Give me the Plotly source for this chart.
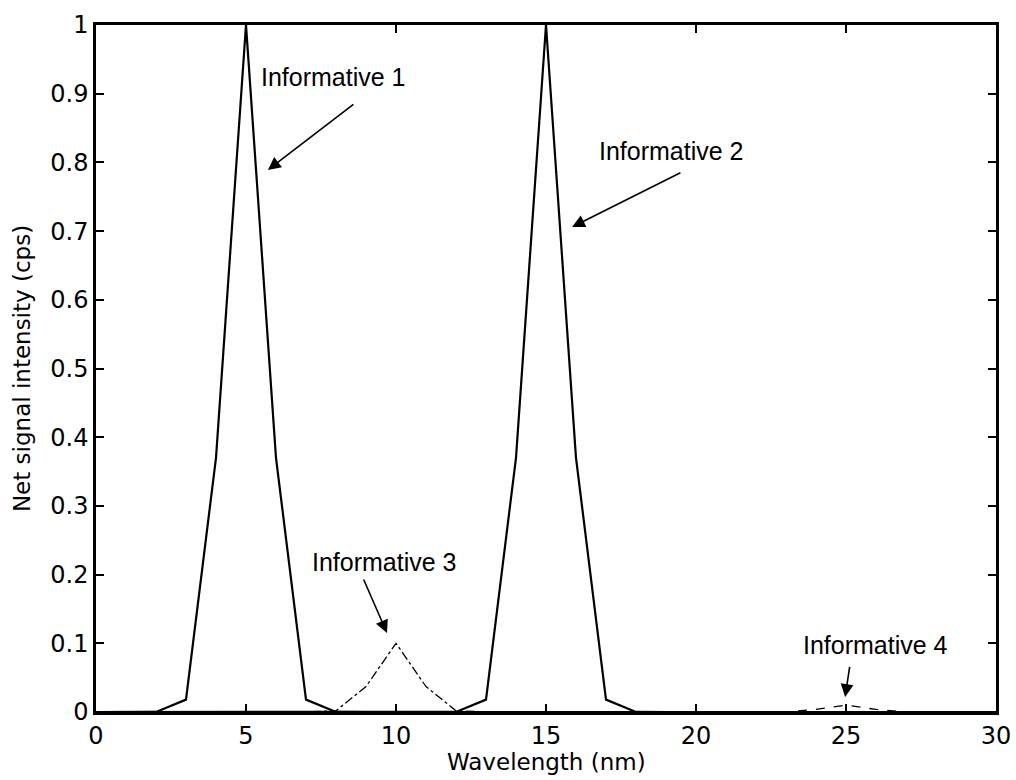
import plotly.graph_objects as go

# Wavelength grid (nm)
wavelength = list(range(0, 31))

# Net signal of each informative component (cps)
informative_1 = [0, 0, 0.0001, 0.018, 0.37, 1.0, 0.37, 0.018, 0.0001] + [0] * 22
informative_2 = [0] * 12 + [0.0001, 0.018, 0.37, 1.0, 0.37, 0.018, 0.0001] + [0] * 12
informative_3 = [0] * 7 + [0.00001, 0.0018, 0.037, 0.1, 0.037, 0.0018, 0.00001] + [0] * 17
informative_4 = [0] * 22 + [0.000001, 0.0002, 0.0037, 0.01, 0.0037, 0.0002, 0.000001] + [0] * 2

x_ticks = [0, 5, 10, 15, 20, 25, 30]
y_ticks = [0, 0.1, 0.2, 0.3, 0.4, 0.5, 0.6, 0.7, 0.8, 0.9, 1]
y_tick_text = ["0", "0.1", "0.2", "0.3", "0.4", "0.5", "0.6", "0.7", "0.8", "0.9", "1"]

# Label text, label position, arrow tail and arrow head (data units)
labels = ["Informative 1", "Informative 2", "Informative 3", "Informative 4"]
label_x = [7.93, 19.17, 9.63, 25.97]
label_y = [0.924, 0.817, 0.218, 0.098]
tail_x = [8.63, 19.53, 8.9, 25.13]
tail_y = [0.886, 0.786, 0.195, 0.068]
head_x = [5.73, 15.87, 9.7, 24.97]
head_y = [0.789, 0.706, 0.115, 0.022]

LABEL_FONT = "Liberation Sans, Arial, sans-serif"
AXIS_FONT = "DejaVu Sans, sans-serif"

fig = go.Figure()
fig.add_trace(go.Scatter(x=wavelength, y=informative_3, mode="lines",
                         line=dict(color="black", width=1.3, dash="dashdot")))
fig.add_trace(go.Scatter(x=wavelength, y=informative_4, mode="lines",
                         line=dict(color="black", width=1.3, dash="dash")))
fig.add_trace(go.Scatter(x=wavelength, y=informative_1, mode="lines",
                         line=dict(color="black", width=2.2)))
fig.add_trace(go.Scatter(x=wavelength, y=informative_2, mode="lines",
                         line=dict(color="black", width=2.2)))

for i in range(len(labels)):
    fig.add_annotation(x=head_x[i], y=head_y[i], ax=tail_x[i], ay=tail_y[i],
                       xref="x", yref="y", axref="x", ayref="y",
                       text="", showarrow=True, arrowhead=2, arrowsize=1.6,
                       arrowwidth=1.6, arrowcolor="black")
    fig.add_annotation(x=label_x[i], y=label_y[i], xref="x", yref="y",
                       text=labels[i], showarrow=False,
                       font=dict(family=LABEL_FONT, size=25, color="black"))

# x-axis title, set just under the tick labels
fig.add_annotation(x=0.5, y=-0.073, xref="paper", yref="paper",
                   xanchor="center", yanchor="middle", showarrow=False,
                   text="Wavelength (nm)",
                   font=dict(family=AXIS_FONT, size=23, color="black"))

axis_common = dict(showgrid=False, zeroline=False, showline=True, linecolor="black",
                   linewidth=2.5, mirror="ticks", ticks="inside", ticklen=8,
                   tickwidth=1.5, tickcolor="black", automargin=False,
                   ticklabeloverflow="allow",
                   tickfont=dict(family=AXIS_FONT, size=24, color="black"))

fig.update_xaxes(range=[0, 30], tickvals=x_ticks, **axis_common)
fig.update_yaxes(range=[0, 1], tickvals=y_ticks, ticktext=y_tick_text,
                 title=dict(text="Net signal intensity (cps)", standoff=14,
                            font=dict(family=AXIS_FONT, size=23, color="black")),
                 **axis_common)

fig.update_layout(width=1016, height=780, showlegend=False,
                  plot_bgcolor="white", paper_bgcolor="white",
                  margin=dict(l=96, r=20, t=25, b=68))

fig.write_html("out.html")
